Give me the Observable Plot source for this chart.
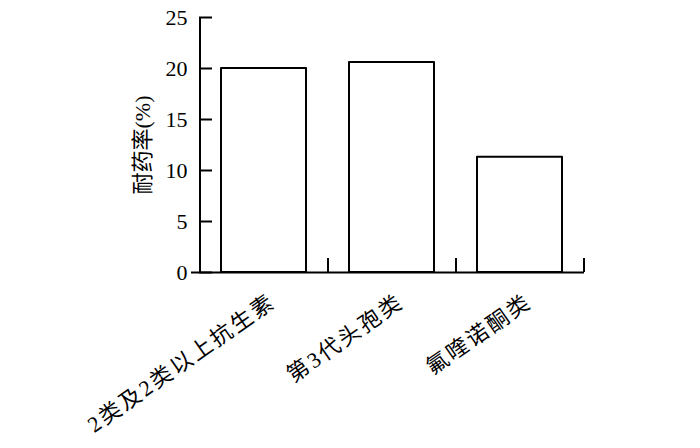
<!DOCTYPE html>
<html><head><meta charset="utf-8">
<script src="https://cdn.jsdelivr.net/npm/d3@7"></script>
<script src="https://cdn.jsdelivr.net/npm/@observablehq/plot@0.6"></script>
<style>html,body{margin:0;padding:0;background:#fff}</style>
</head><body><div id="chart"></div>
<script>
const categories = ["2类及2类以上抗生素", "第3代头孢类", "氟喹诺酮类"];
const values = [20.0, 20.6, 11.3];
const yTicks = [0, 5, 10, 15, 20, 25];
const yLabel = "耐药率(%)";

const data = categories.map((c, i) => ({category: c, value: values[i]}));

const W = 700, H = 448, mL = 199, mR = 117, mT = 17, mB = 176;
const step = (W - mL - mR) / categories.length;
const font = '"Liberation Serif","Noto Sans CJK SC",serif';

const chart = Plot.plot({
  width: W, height: H,
  marginLeft: mL, marginRight: mR, marginTop: mT, marginBottom: mB,
  style: {fontFamily: font, fontSize: "22px", background: "#fff", color: "#000"},
  x: {domain: categories, paddingInner: 0.336, paddingOuter: 0.168, axis: null},
  y: {domain: [0, 25], axis: null},
  marks: [
    Plot.barY(data, {x: "category", y: "value", fill: "white", stroke: "black", strokeWidth: 2, strokeLinejoin: "round"}),
    Plot.axisY(yTicks, {tickSize: 0, tickPadding: 12, fontSize: 22, label: null}),
    Plot.tickY(yTicks, {y: d => d, insetRight: W - mL - mR - 13, strokeWidth: 2}),
    Plot.ruleX(categories.slice(0, 1), {x: d => d, dx: -step / 2, strokeWidth: 2}),
    Plot.ruleY([0], {insetLeft: -8, insetRight: -1, strokeWidth: 2}),
    Plot.tickX(categories, {x: d => d, dx: step / 2, insetTop: H - mT - mB - 14, strokeWidth: 2}),
    Plot.text(categories, {x: d => d, y: () => 0, text: d => d, rotate: -35, textAnchor: "end", lineAnchor: "middle", dx: 9, dy: 27, fontSize: 22}),
    Plot.text([yLabel], {frameAnchor: "left", textAnchor: "middle", text: d => d, rotate: -90, dx: -57, fontSize: 22})
  ]
});
d3.select(chart).selectAll("text").filter(function () {
  return categories.includes(this.textContent);
}).attr("letter-spacing", 2.5);
document.getElementById("chart").appendChild(chart);
</script>
</body></html>
